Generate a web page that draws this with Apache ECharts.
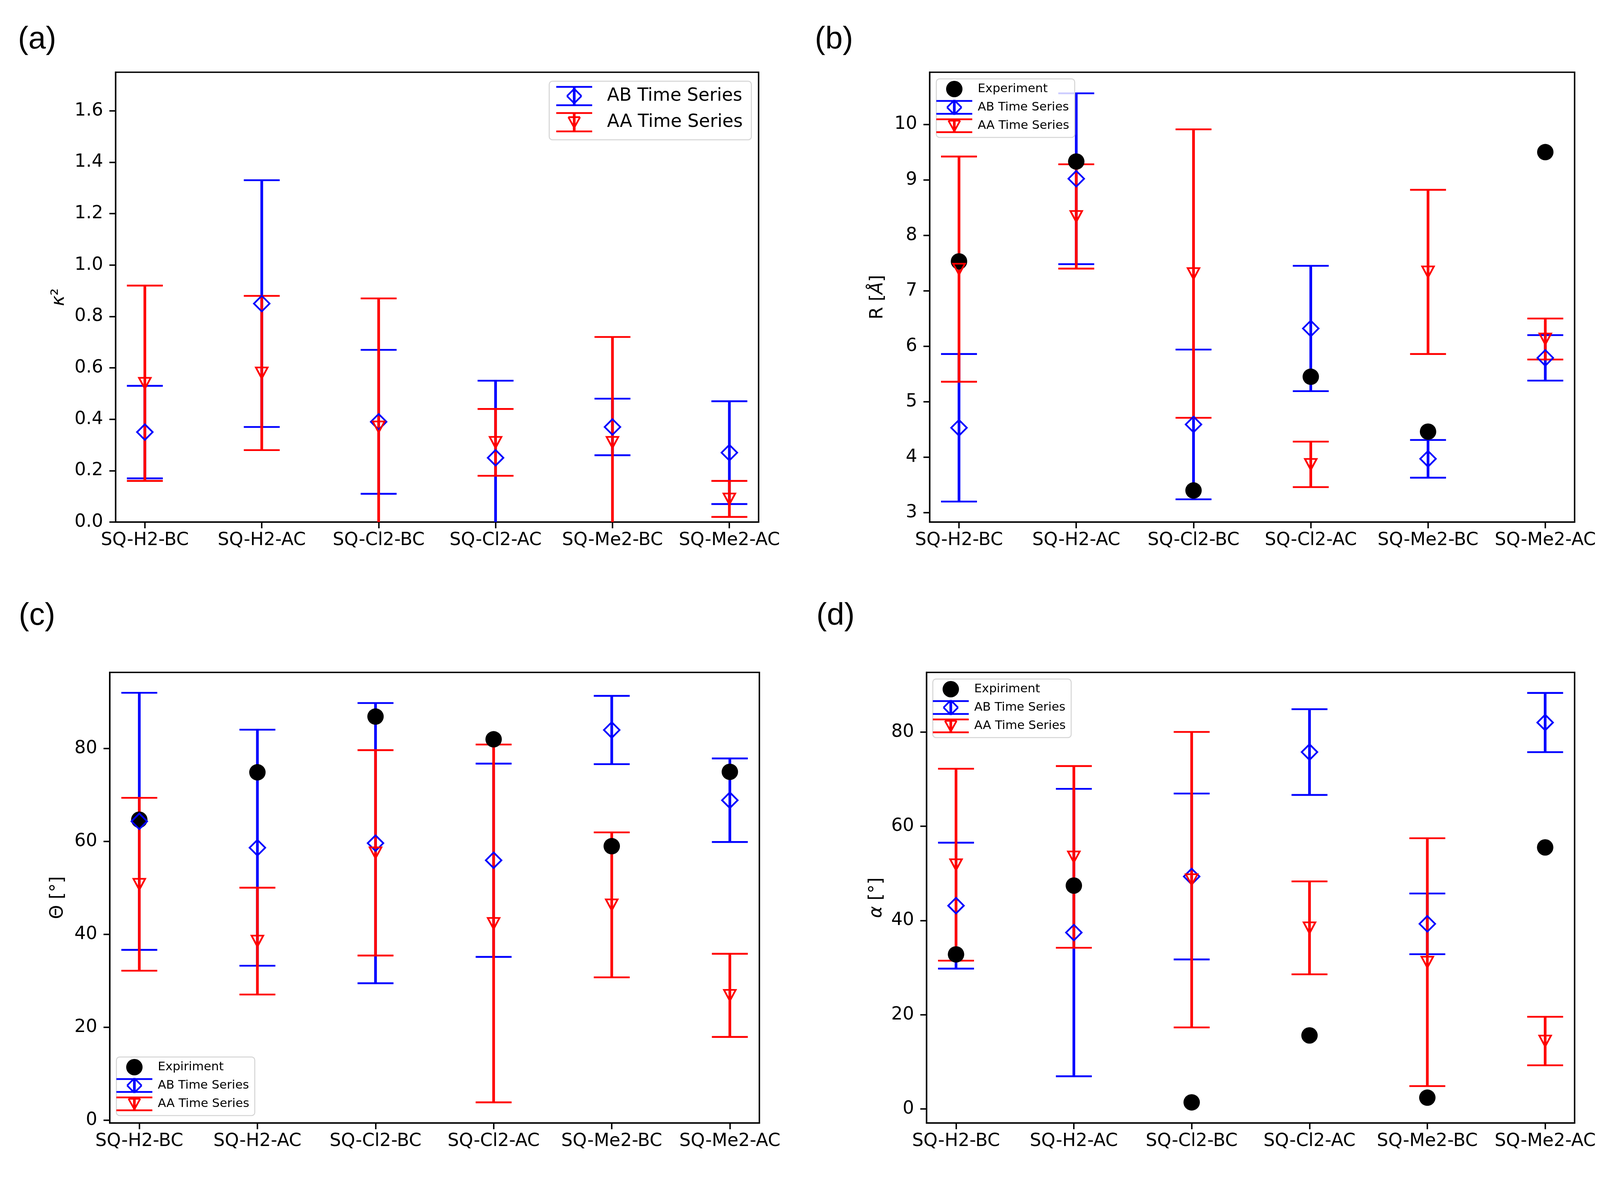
<!DOCTYPE html>
<html>
<head>
<meta charset="utf-8">
<script src="https://cdn.jsdelivr.net/npm/echarts@6/dist/echarts.min.js"></script>
<style>
  html, body { margin: 0; padding: 0; background: #fff; }
  #chart { width: 4170px; height: 3022px; }
</style>
</head>
<body>
<div id="chart"></div>
<script>
var categories = ['SQ-H2-BC', 'SQ-H2-AC', 'SQ-Cl2-BC', 'SQ-Cl2-AC', 'SQ-Me2-BC', 'SQ-Me2-AC'];
var catPos = [0, 1, 2, 3, 4, 5];

// (a) kappa^2
var kappaAB = [0.35, 0.85, 0.39, 0.25, 0.37, 0.27];
var kappaABErr = [0.18, 0.48, 0.28, 0.30, 0.11, 0.20];
var kappaAA = [0.54, 0.58, 0.37, 0.31, 0.31, 0.09];
var kappaAAErr = [0.38, 0.30, 0.50, 0.13, 0.41, 0.07];
var kappaTicks = [0, 0.2, 0.4, 0.6, 0.8, 1.0, 1.2, 1.4, 1.6];

// (b) R
var rExp = [7.53, 9.33, 3.40, 5.45, 4.46, 9.50];
var rAB = [4.53, 9.02, 4.59, 6.32, 3.97, 5.79];
var rABErr = [1.33, 1.54, 1.35, 1.13, 0.34, 0.41];
var rAA = [7.39, 8.34, 7.31, 3.87, 7.34, 6.13];
var rAAErr = [2.03, 0.94, 2.60, 0.41, 1.48, 0.37];
var rTicks = [3, 4, 5, 6, 7, 8, 9, 10];

// (c) Theta
var thetaExp = [64.7, 74.9, 86.9, 82.0, 59.0, 75.0];
var thetaAB = [64.35, 58.67, 59.65, 55.97, 84.0, 68.89];
var thetaABErr = [27.66, 25.4, 30.15, 20.8, 7.35, 8.99];
var thetaAA = [50.8, 38.57, 57.57, 42.37, 46.37, 26.9];
var thetaAAErr = [18.6, 11.5, 22.1, 38.5, 15.6, 8.95];

// (d) alpha
var alphaExp = [32.8, 47.4, 1.4, 15.6, 2.4, 55.5];
var alphaAB = [43.14, 37.43, 49.33, 75.73, 39.28, 82.0];
var alphaABErr = [13.36, 30.5, 17.6, 9.1, 6.44, 6.28];
var alphaAA = [51.83, 53.48, 48.65, 38.43, 31.15, 14.41];
var alphaAAErr = [20.36, 19.28, 31.35, 9.86, 26.3, 5.15];

var angleTicks = [0, 20, 40, 60, 80];

var BLUE = '#0000ff', RED = '#ff0000';
var ELW = 6.9;    // errorbar stem width
var CLW = 4.6;    // cap thickness
var MLW = 4.4;    // hollow marker edge
var CAP = 46;     // half cap width
var FONT = 'DejaVu Sans';

var chart = echarts.init(document.getElementById('chart'), null, { renderer: 'canvas' });

// legend icons drawn as little errorbar handles, like matplotlib does
function f(n) { return n.toFixed(2); }
function bar(x1, y1, x2, y2, w) {
  var dx = x2 - x1, dy = y2 - y1, len = Math.sqrt(dx * dx + dy * dy);
  var nx = -dy / len * w / 2, ny = dx / len * w / 2;
  return 'M' + f(x1 + nx) + ' ' + f(y1 + ny) + 'L' + f(x2 + nx) + ' ' + f(y2 + ny) +
    'L' + f(x2 - nx) + ' ' + f(y2 - ny) + 'L' + f(x1 - nx) + ' ' + f(y1 - ny) + 'Z';
}
function errIcon(kind, W, H, D) {
  var c = H / 2, cx = W / 2, p = 'M0 0M' + W + ' ' + H;
  p += bar(0, c - D / 2, W, c - D / 2, CLW) + bar(0, c + D / 2, W, c + D / 2, CLW) +
       bar(cx, c - D / 2, cx, c + D / 2, ELW);
  var v;
  if (kind === 'diamond') {
    var r = 18.5;
    v = [[cx, c - r], [cx + r, c], [cx, c + r], [cx - r, c]];
  } else {
    v = [[cx - 15, c - 13], [cx + 15, c - 13], [cx, c + 14]];
  }
  for (var i = 0; i < v.length; i++) {
    var a = v[i], b = v[(i + 1) % v.length];
    p += bar(a[0], a[1], b[0], b[1], MLW);
  }
  return 'path://' + p;
}

function errSeries(name, idx, mean, err, color) {
  return {
    type: 'custom', name: name, xAxisIndex: idx, yAxisIndex: idx, clip: true, silent: true,
    data: mean.map(function (m, i) { return [catPos[i], m - err[i], m + err[i]]; }),
    encode: { x: 0, y: [1, 2] },
    renderItem: function (params, api) {
      var top = api.coord([api.value(0), api.value(2)]);
      var bot = api.coord([api.value(0), api.value(1)]);
      var st = { stroke: color, lineWidth: ELW, fill: null };
      var cs = { stroke: color, lineWidth: CLW, fill: null };
      return { type: 'group', children: [
        { type: 'line', shape: { x1: top[0], y1: top[1], x2: bot[0], y2: bot[1] }, style: st },
        { type: 'line', shape: { x1: top[0] - CAP, y1: top[1], x2: top[0] + CAP, y2: top[1] }, style: cs },
        { type: 'line', shape: { x1: bot[0] - CAP, y1: bot[1], x2: bot[0] + CAP, y2: bot[1] }, style: cs }
      ] };
    }
  };
}
function markSeries(name, idx, vals, kind) {
  var s = {
    type: 'scatter', name: name, xAxisIndex: idx, yAxisIndex: idx, silent: true,
    data: vals.map(function (v, i) { return [catPos[i], v]; })
  };
  if (kind === 'exp') {
    s.symbol = 'circle'; s.symbolSize = 42; s.itemStyle = { color: '#000', opacity: 1 };
  } else if (kind === 'ab') {
    s.symbol = 'diamond'; s.symbolSize = [40, 40];
    s.itemStyle = { color: 'rgba(0,0,0,0)', borderColor: BLUE, borderWidth: MLW, opacity: 1 };
  } else {
    s.symbol = 'triangle'; s.symbolRotate = 180; s.symbolSize = [30, 28];
    s.itemStyle = { color: 'rgba(0,0,0,0)', borderColor: RED, borderWidth: MLW, opacity: 1 };
  }
  return s;
}

var panels = [
  { tag: '(a)', tagPos: [46, 62], grid: [296, 185, 1646, 1152], y: [0, 1.75], ticks: kappaTicks,
    fmt: function (v) { return v.toFixed(1); }, name: '{i|κ}²', nameGap: 122,
    ab: [kappaAB, kappaABErr], aa: [kappaAA, kappaAAErr] },
  { tag: '(b)', tagPos: [2086, 62], grid: [2380, 185, 1651, 1152], y: [2.83, 10.94], ticks: rTicks,
    fmt: function (v) { return String(v); }, name: 'R [{i|Å}]', nameGap: 110,
    exp: rExp, expName: 'Experiment', ab: [rAB, rABErr], aa: [rAA, rAAErr] },
  { tag: '(c)', tagPos: [48, 1538], grid: [281, 1722, 1663, 1154], y: [-0.57, 96.4], ticks: angleTicks,
    fmt: function (v) { return String(v); }, name: 'Θ [°]', nameGap: 110,
    exp: thetaExp, expName: 'Expiriment', ab: [thetaAB, thetaABErr], aa: [thetaAA, thetaAAErr] },
  { tag: '(d)', tagPos: [2090, 1538], grid: [2372, 1722, 1659, 1154], y: [-2.98, 92.64], ticks: angleTicks,
    fmt: function (v) { return String(v); }, name: '{i|α} [°]', nameGap: 105,
    exp: alphaExp, expName: 'Expiriment', ab: [alphaAB, alphaABErr], aa: [alphaAA, alphaAAErr] }
];

var legendPos = [
  { left: 1406, top: 208 },
  { left: 2397, top: 202 },
  { left: 298, top: 2707 },
  { left: 2388, top: 1739 }
];

var grids = [], xAxes = [], yAxes = [], series = [], titles = [], legends = [];

panels.forEach(function (p, i) {
  grids.push({ left: p.grid[0], top: p.grid[1], width: p.grid[2], height: p.grid[3],
    show: true, borderColor: '#000', borderWidth: 3.7, backgroundColor: 'transparent',
    containLabel: false, outerBoundsMode: 'none' });
  xAxes.push({
    type: 'value', gridIndex: i, min: -0.25, max: 5.25,
    axisLine: { show: true, onZero: false, lineStyle: { color: '#000', width: 3.7 } },
    axisTick: { show: true, customValues: catPos, length: 16, lineStyle: { color: '#000', width: 3.7 } },
    axisLabel: { show: true, customValues: catPos, margin: 24, color: '#000', fontSize: 46, fontFamily: FONT,
      formatter: function (v) { return categories[Math.round(v)]; } },
    splitLine: { show: false }
  });
  yAxes.push({
    type: 'value', gridIndex: i, min: p.y[0], max: p.y[1],
    name: p.name, nameLocation: 'middle', nameGap: p.nameGap,
    nameTextStyle: { color: '#000', fontSize: 46, fontFamily: FONT,
      rich: { i: { fontStyle: 'italic', fontSize: 46, fontFamily: FONT, color: '#000' } } },
    axisLine: { show: true, onZero: false, lineStyle: { color: '#000', width: 3.7 } },
    axisTick: { show: true, customValues: p.ticks, length: 16, lineStyle: { color: '#000', width: 3.7 } },
    axisLabel: { show: true, customValues: p.ticks, margin: 32, color: '#000', fontSize: 46, fontFamily: FONT,
      formatter: p.fmt },
    splitLine: { show: false }
  });
  titles.push({ text: p.tag, left: p.tagPos[0], top: p.tagPos[1], padding: 0,
    textStyle: { fontSize: 80, fontWeight: 'normal', fontFamily: 'Liberation Sans', color: '#000' } });

  if (p.exp) series.push(markSeries(p.expName, i, p.exp, 'exp'));
  series.push(errSeries('AB Time Series', i, p.ab[0], p.ab[1], BLUE));
  series.push(markSeries('AB Time Series', i, p.ab[0], 'ab'));
  series.push(errSeries('AA Time Series', i, p.aa[0], p.aa[1], RED));
  series.push(markSeries('AA Time Series', i, p.aa[0], 'aa'));

  var big = (i === 0);
  var W = 92, H = big ? 52 : 42, D = big ? 47 : 33;
  var items = [];
  if (p.exp) items.push({ name: p.expName, icon: 'circle', itemStyle: { color: '#000', borderWidth: 0, opacity: 1 } });
  items.push({ name: 'AB Time Series', icon: errIcon('diamond', W, H, D), itemStyle: { color: BLUE, borderWidth: 0, opacity: 1 } });
  items.push({ name: 'AA Time Series', icon: errIcon('triangle', W, H, D), itemStyle: { color: RED, borderWidth: 0, opacity: 1 } });
  legends.push({
    orient: 'vertical', left: legendPos[i].left, top: legendPos[i].top,
    itemWidth: W, itemHeight: H, itemGap: big ? 15 : 5, selectedMode: false,
    padding: big ? [12, 22, 19, 18] : [5, 14, 9, 0],
    backgroundColor: 'rgba(255,255,255,0.8)', borderColor: '#d4d4d4', borderWidth: 2.5, borderRadius: 8,
    textStyle: { color: '#000', fontSize: big ? 46 : 31, fontFamily: FONT, padding: [0, 0, 0, big ? 33 : 9] },
    data: items
  });
});

chart.setOption({
  animation: false,
  backgroundColor: '#fff',
  title: titles,
  legend: legends,
  grid: grids,
  xAxis: xAxes,
  yAxis: yAxes,
  series: series
});
</script>
</body>
</html>
